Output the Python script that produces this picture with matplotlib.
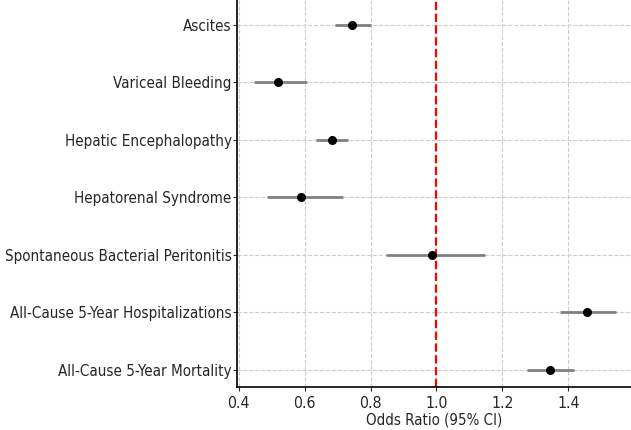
import matplotlib.pyplot as plt
import numpy as np

outcomes = [
    "All-Cause 5-Year Mortality",
    "All-Cause 5-Year Hospitalizations",
    "Spontaneous Bacterial Peritonitis",
    "Hepatorenal Syndrome",
    "Hepatic Encephalopathy",
    "Variceal Bleeding",
    "Ascites",
]
odds_ratio = [1.345, 1.457, 0.986, 0.588, 0.682, 0.52, 0.745]
ci_low = [1.276, 1.374, 0.846, 0.486, 0.634, 0.446, 0.693]
ci_high = [1.418, 1.545, 1.148, 0.715, 0.731, 0.606, 0.802]
x_ticks = [0.4, 0.6, 0.8, 1.0, 1.2, 1.4]

plt.rcParams['font.family'] = 'DejaVu Sans'
plt.rcParams['font.stretch'] = 'condensed'

odds_ratio = np.array(odds_ratio)
err = [odds_ratio - np.array(ci_low), np.array(ci_high) - odds_ratio]
y = np.arange(len(outcomes))

fig = plt.figure(figsize=(6.31, 4.30), dpi=100)
ax = fig.add_axes([0.3756, 0.1007, 0.6244, 0.8993])

ax.errorbar(odds_ratio, y, xerr=err, fmt='o', color='black', ecolor='gray',
            elinewidth=2, capsize=0, markersize=5.5, zorder=3)
ax.axvline(1.0, color='red', linestyle='--', linewidth=1.6, zorder=2)

ax.set_yticks(y)
ax.set_yticklabels(outcomes)
ax.set_xlim(0.395, 1.59)
ax.set_ylim(-0.29, 6.43)
ax.set_xticks(x_ticks)
ax.set_xlabel('Odds Ratio (95% CI)', fontsize=10.8, color='#262626', labelpad=1)
ax.tick_params(axis='x', labelsize=11.3, colors='#262626', length=3)
ax.tick_params(axis='y', labelsize=10.9, colors='#262626', length=3, pad=0.8)
ax.grid(True, linestyle='--', color='#cccccc', linewidth=0.8)
ax.set_axisbelow(True)
ax.spines['top'].set_visible(False)
ax.spines['right'].set_visible(False)
ax.spines['left'].set_linewidth(1.2)
ax.spines['bottom'].set_linewidth(1.2)

plt.savefig('out.png', dpi=100)
